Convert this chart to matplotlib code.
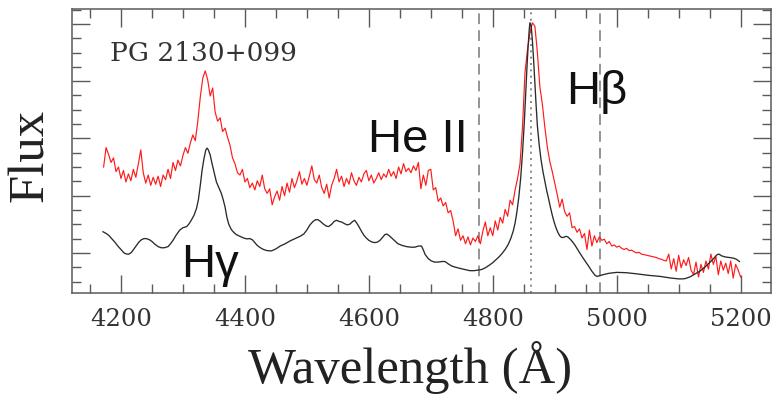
import numpy as np
import matplotlib
matplotlib.use("Agg")
import matplotlib.pyplot as plt
from matplotlib.ticker import MultipleLocator, NullFormatter

# ---- mean spectrum (black), irregular sampling ----
black_wave = [4171, 4176, 4180, 4185, 4190, 4195, 4200, 4205, 4209, 4213,
              4217, 4221, 4225, 4229, 4233, 4237, 4241, 4246, 4250, 4255,
              4260, 4265, 4270, 4276, 4280, 4284, 4289, 4295, 4300, 4306,
              4310, 4314, 4318, 4322, 4325, 4328, 4331, 4334, 4337, 4339,
              4341, 4344, 4347, 4350, 4354, 4358, 4362, 4365, 4368, 4371,
              4374, 4378, 4381, 4386, 4392, 4398, 4403, 4408, 4412, 4416,
              4420, 4425, 4430, 4436, 4443, 4450, 4457, 4465, 4473, 4481,
              4489, 4495, 4500, 4505, 4510, 4514, 4518, 4522, 4526, 4531,
              4535, 4540, 4544, 4548, 4552, 4556, 4561, 4565, 4569, 4573,
              4577, 4580, 4584, 4588, 4592, 4596, 4600, 4605, 4610, 4614,
              4618, 4622, 4626, 4629, 4633, 4637, 4642, 4647, 4654, 4661,
              4668, 4674, 4680, 4685, 4688, 4691, 4696, 4701, 4706, 4712,
              4718, 4723, 4728, 4734, 4740, 4747, 4755, 4763, 4770, 4776,
              4782, 4788, 4795, 4800, 4805, 4810, 4815, 4820, 4825, 4829,
              4833, 4836, 4839, 4842, 4845, 4848, 4851, 4853, 4855, 4857,
              4859, 4860, 4862, 4864, 4866, 4868, 4870, 4872, 4875, 4878,
              4881, 4884, 4887, 4890, 4893, 4896, 4899, 4902, 4905, 4908,
              4911, 4914, 4918, 4921, 4925, 4929, 4933, 4937, 4941, 4947,
              4954, 4960, 4965, 4968, 4972, 4978, 4988, 5000, 5015, 5032,
              5050, 5070, 5088, 5102, 5110, 5118, 5126, 5134, 5142, 5150,
              5157, 5162, 5165, 5169, 5175, 5182, 5188, 5193, 5198]
black_flux = [1.37, 1.34, 1.31, 1.25, 1.19, 1.12, 1.06, 1.00, 0.98, 0.98,
              1.01, 1.07, 1.13, 1.19, 1.23, 1.25, 1.25, 1.23, 1.20, 1.15,
              1.11, 1.09, 1.09, 1.11, 1.16, 1.22, 1.31, 1.40, 1.44, 1.46,
              1.51, 1.58, 1.66, 1.78, 1.93, 2.18, 2.45, 2.65, 2.80, 2.83,
              2.80, 2.71, 2.56, 2.42, 2.24, 2.14, 2.04, 1.93, 1.80, 1.62,
              1.50, 1.41, 1.37, 1.32, 1.29, 1.26, 1.245, 1.25, 1.23, 1.18,
              1.13, 1.09, 1.06, 1.04, 1.035, 1.07, 1.12, 1.16, 1.21, 1.25,
              1.29, 1.33, 1.40, 1.49, 1.55, 1.58, 1.58, 1.55, 1.51, 1.47,
              1.46, 1.50, 1.55, 1.57, 1.55, 1.54, 1.51, 1.49, 1.50, 1.54,
              1.57, 1.53, 1.46, 1.38, 1.31, 1.26, 1.22, 1.19, 1.18, 1.19,
              1.22, 1.27, 1.32, 1.33, 1.30, 1.26, 1.21, 1.16, 1.13, 1.11,
              1.10, 1.10, 1.12, 1.12, 1.05, 0.97, 0.90, 0.86, 0.84, 0.84,
              0.85, 0.85, 0.81, 0.77, 0.75, 0.73, 0.71, 0.69, 0.69, 0.70,
              0.71, 0.74, 0.79, 0.83, 0.88, 0.93, 0.99, 1.06, 1.15, 1.25,
              1.38, 1.52, 1.72, 1.97, 2.30, 2.75, 3.30, 3.75, 4.20, 4.60,
              4.92, 5.02, 4.97, 4.70, 4.35, 3.95, 3.57, 3.22, 2.88, 2.62,
              2.42, 2.25, 2.09, 1.95, 1.80, 1.66, 1.54, 1.44, 1.36, 1.30,
              1.27, 1.27, 1.29, 1.28, 1.24, 1.19, 1.13, 1.06, 0.99, 0.89,
              0.78, 0.68, 0.61, 0.59, 0.60, 0.62, 0.645, 0.66, 0.655, 0.635,
              0.61, 0.59, 0.56, 0.545, 0.55, 0.58, 0.63, 0.68, 0.75, 0.83,
              0.91, 0.97, 0.98, 0.95, 0.93, 0.92, 0.91, 0.89, 0.85]

# ---- second spectrum (red), regular 4 A grid starting at 4172 A ----
red_start, red_step = 4172, 4
red_flux = [
    # 4172 - 4296
    2.50, 2.84, 2.72, 2.58, 2.66, 2.42, 2.50, 2.30, 2.44, 2.24,
    2.38, 2.26, 2.46, 2.32, 2.55, 2.80, 2.40, 2.22, 2.36, 2.18,
    2.32, 2.20, 2.34, 2.16, 2.36, 2.28, 2.46, 2.30, 2.58, 2.44,
    2.62, 2.52,
    # 4300 - 4396
    2.70, 2.84, 2.74, 2.92, 3.06, 2.96, 3.30, 3.72, 4.05, 4.18,
    4.02, 3.74, 3.88, 3.46, 3.30, 3.36, 3.12, 3.18, 3.02, 2.88,
    2.66, 2.56, 2.40, 2.36, 2.46,
    # 4400 - 4496
    2.24, 2.30, 2.14, 2.22, 2.10, 2.26, 2.16, 2.36, 2.12, 2.04,
    2.12, 1.84, 1.98, 2.08, 1.92, 2.16, 2.00, 2.22, 2.06, 2.30,
    2.14, 2.26, 2.42, 2.20, 2.30,
    # 4500 - 4696
    2.18, 2.34, 2.52, 2.28, 2.22, 2.36, 2.14, 2.04, 2.20, 1.96,
    2.18, 2.30, 2.46, 2.24, 2.34, 2.16, 2.30, 2.20, 2.40, 2.26,
    2.18, 2.32, 2.24, 2.38, 2.44, 2.26, 2.36, 2.22, 2.30, 2.40,
    2.28, 2.38, 2.32, 2.46, 2.34, 2.42, 2.30, 2.50, 2.38, 2.56,
    2.42, 2.48, 2.40, 2.52, 2.44, 2.58, 2.12, 2.36, 2.18, 2.44,
    # 4700 - 4796
    2.46, 2.10, 2.14, 1.90, 1.96, 1.82, 1.88, 1.70, 1.74, 1.56,
    1.30, 1.42, 1.22, 1.30, 1.16, 1.28, 1.14, 1.26, 1.20, 1.30,
    1.16, 1.38, 1.54, 1.30, 1.44,
    # 4800 - 4896
    1.30, 1.56, 1.40, 1.62, 1.52, 1.76, 1.64, 1.92, 1.84, 2.10,
    2.30, 2.56, 3.20, 4.15, 4.55, 4.85, 5.02, 4.96, 4.50, 3.90,
    3.60, 3.20, 2.85, 2.60, 2.42,
    # 4900 - 4996
    2.22, 2.02, 1.80, 1.94, 1.72, 1.64, 1.70, 1.44, 1.46, 1.36,
    1.42, 1.26, 1.34, 1.06, 1.40, 1.12, 1.30, 1.18, 1.28, 1.22,
    1.24, 1.16, 1.20, 1.12, 1.14,
    # 5000 - 5080
    1.10, 1.12, 1.08, 1.06, 1.08, 1.04, 1.05, 1.02, 1.00, 1.01,
    0.98, 0.97, 0.96, 0.95, 0.94, 0.93, 0.92, 0.90, 0.89, 0.87,
    0.86,
    # 5084 - 5200
    0.98, 0.72, 0.90, 0.68, 0.96, 0.74, 0.88, 0.78, 0.92, 0.70,
    0.62, 0.84, 0.58, 0.80, 0.66, 0.86, 0.72, 0.98, 0.80, 0.94,
    0.62, 0.86, 0.70, 0.82, 0.64, 0.86, 0.56, 0.80, 0.70, 0.58,
]
red_wave = red_start + red_step * np.arange(len(red_flux))

# reference wavelengths
hbeta_center = 4861
window_edges = [4778, 4973]

object_name = "PG 2130+099"
line_names = ["H\u03b3", "He II", "H\u03b2"]
line_label_pos = [(4297, 0.58), (4598, 2.77), (4918, 3.60)]

x_ticks_major = 200
x_ticks_minor = 50

fig = plt.figure(figsize=(7.72, 3.95), dpi=100)
ax = fig.add_axes([72 / 772, 102 / 395, 699 / 772, 284 / 395])

ax.plot(black_wave, black_flux, color="#2a2a2a", lw=0.95, zorder=3)
ax.plot(red_wave, red_flux, color="#ff1a1a", lw=0.85, zorder=2)

for w in window_edges:
    ax.axvline(w, color="#777777", lw=1.1, dashes=(7, 4), zorder=1)
ax.axvline(hbeta_center, color="#777777", lw=1.2, dashes=(1.2, 2.6), zorder=1)

ax.set_xlim(4121, 5249)
ax.set_ylim(0.30, 5.26)

ax.xaxis.set_major_locator(MultipleLocator(x_ticks_major))
ax.xaxis.set_minor_locator(MultipleLocator(x_ticks_minor))
ax.yaxis.set_major_locator(MultipleLocator(1))
ax.yaxis.set_minor_locator(MultipleLocator(0.25))
ax.yaxis.set_major_formatter(NullFormatter())

spine_col = "#5a5a5a"
for s in ax.spines.values():
    s.set_color(spine_col)
    s.set_linewidth(1.1)
ax.tick_params(which="both", direction="in", top=True, right=True,
               color=spine_col, width=1.0)
ax.tick_params(which="major", length=13)
ax.tick_params(which="minor", length=6.5)
ax.tick_params(axis="x", which="major", pad=11, labelsize=17.5,
               labelcolor="#333333")
for lab in ax.get_xticklabels():
    lab.set_family("DejaVu Serif")

ax.text(4182, 4.35, object_name, family="DejaVu Serif", fontsize=19,
        color="#333333", ha="left", va="baseline")

for name, (x, y) in zip(line_names, line_label_pos):
    ax.text(x, y, name, family="Liberation Sans", fontsize=34,
            color="#111111", ha="left", va="baseline", zorder=5)

fig.text(410 / 772, 12 / 395, "Wavelength (\u00c5)", family="Liberation Serif",
         fontsize=36.5, color="#222222", ha="center", va="baseline")
fig.text(54 / 772, 240 / 395, "Flux", family="Liberation Serif",
         fontsize=36.5, color="#222222", rotation=90, ha="right",
         va="center")

fig.savefig("out.png", dpi=100)
